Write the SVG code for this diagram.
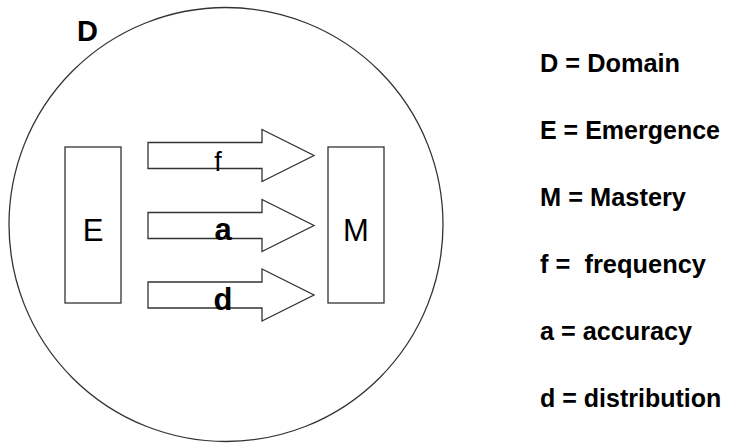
<svg xmlns="http://www.w3.org/2000/svg" width="729" height="443" viewBox="0 0 729 443">
<style>
.ln{fill:#fff;stroke:#333;stroke-width:1.3}
.lg{font-family:"Liberation Sans",Arial,sans-serif;font-weight:bold;font-size:26.5px;fill:#000}
.lg2{font-family:"Liberation Sans",Arial,sans-serif;font-weight:bold;font-size:25px;fill:#000}
.lb{font-family:"Liberation Sans",Arial,sans-serif;fill:#000;text-anchor:middle}
</style>
<rect width="729" height="443" fill="#fff"/>
<g id="domain">
<circle class="ln" cx="226" cy="224.5" r="217"/>
<text x="77" y="41" font-family="Liberation Sans, Arial, sans-serif" font-weight="bold" font-size="29">D</text>
</g>
<g id="E">
<rect class="ln" x="65" y="147" width="56" height="156"/>
<text class="lb" x="93" y="241" font-size="31">E</text>
</g>
<g id="M">
<rect class="ln" x="328" y="147" width="56" height="156"/>
<text class="lb" x="356" y="241" font-size="31">M</text>
</g>
<g id="connectors">
<g id="arrow-f">
<path class="ln" d="M148,142.5 H262 V129.5 L314,155.5 L262,181.5 V168.5 H148 Z"/>
<text class="lb" x="218" y="171" font-size="27">f</text>
</g>
<g id="arrow-a">
<path class="ln" d="M148,212.5 H262 V199.5 L314,225.5 L262,251.5 V238.5 H148 Z"/>
<text class="lb" x="223" y="240" font-size="31" font-weight="bold">a</text>
</g>
<g id="arrow-d">
<path class="ln" d="M148,282 H262 V269 L314,295 L262,321 V308 H148 Z"/>
<text class="lb" x="223" y="310" font-size="31" font-weight="bold">d</text>
</g>
</g>
<g id="legend">
<text class="lg" x="540" y="72" textLength="140" lengthAdjust="spacingAndGlyphs">D = Domain</text>
<text class="lg2" x="540" y="139">E = Emergence</text>
<text class="lg" x="540" y="206" textLength="146" lengthAdjust="spacingAndGlyphs">M = Mastery</text>
<text class="lg" x="540" y="273" xml:space="preserve" textLength="166" lengthAdjust="spacingAndGlyphs">f =  frequency</text>
<text class="lg" x="540" y="340" textLength="152" lengthAdjust="spacingAndGlyphs">a = accuracy</text>
<text class="lg2" x="540" y="407">d = distribution</text>
</g>
</svg>
